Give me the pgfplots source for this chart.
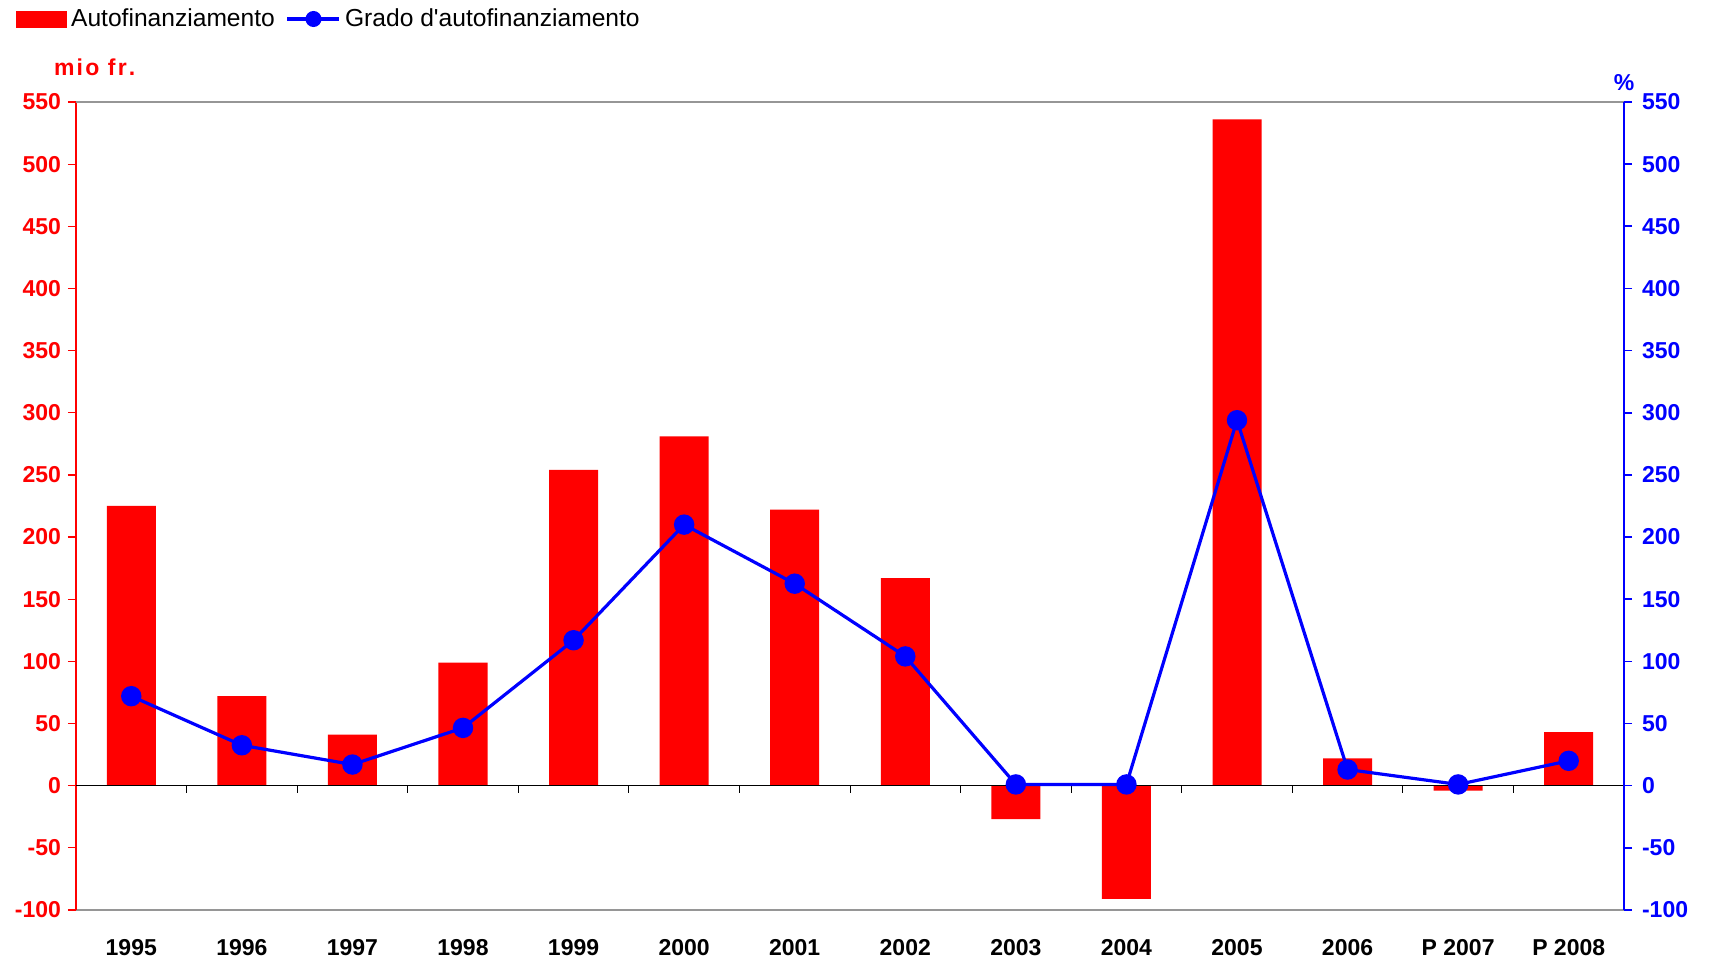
\documentclass[border=0pt]{standalone}
\usepackage{fontspec}
\setmainfont{Liberation Sans}
\usepackage{pgfplots}
\pgfplotsset{compat=1.18}
\definecolor{myred}{RGB}{255,0,0}
\definecolor{myblue}{RGB}{0,0,255}
\definecolor{bordergray}{RGB}{150,150,150}
\newcommand{\tickfont}{\bfseries\fontsize{11.5}{12}\selectfont}
\begin{document}
\begin{tikzpicture}
\useasboundingbox (-38pt,-26.5pt) rectangle (817pt,455pt);
\begin{axis}[
  scale only axis, width=774pt, height=404pt,
  xmin=-0.5, xmax=13.5, ymin=-100, ymax=550,
  ytick={-100,-50,...,550},
  axis y line*=left, axis x line*=bottom,
  x axis line style={bordergray, line width=1pt, -},
  y axis line style={myred, line width=0.6pt, -},
  ytick style={myred, line width=0.6pt},
  tick align=outside, major tick length=4pt,
  xtick={0,...,13},
  xticklabels={1995,1996,1997,1998,1999,2000,2001,2002,2003,2004,2005,2006,P 2007,P 2008},
  xtick style={draw=none},
  yticklabel style={myred, font=\tickfont},
  xticklabel style={black, font=\tickfont, yshift=-7pt},
  /pgf/number format/assume math mode=true,
  ybar, bar width=24.5pt,
  clip=false,
]
\addplot[fill=myred, draw=none] coordinates {
(0,225) (1,72) (2,41) (3,99) (4,254) (5,281) (6,222) (7,167) (8,-27) (9,-91) (10,536) (11,22) (12,-4) (13,43)};
\draw[black, line width=0.5pt] (axis cs:-0.5,0) -- (axis cs:13.5,0);
\pgfplotsinvokeforeach{0.5,1.5,...,12.5}{\draw[black, line width=0.5pt] (axis cs:#1,0) -- ([yshift=-3.5pt]axis cs:#1,0);}
\node[anchor=base west, myred, font=\tickfont, xshift=-14.5pt, yshift=13pt] at (rel axis cs:0,1) {m\kern1.1pt i\kern1.1pt o\kern1.1pt\ f\kern1.1pt r\kern1.1pt .};
\end{axis}
\begin{axis}[
  scale only axis, width=774pt, height=404pt,
  xmin=-0.5, xmax=13.5, ymin=-100, ymax=550,
  ytick={-100,-50,...,550},
  axis y line*=right, axis x line*=top,
  x axis line style={bordergray, line width=1pt, -},
  y axis line style={myblue, line width=1pt, -},
  ytick style={myblue, line width=0.8pt},
  xtick=\empty,
  tick align=outside, major tick length=4pt,
  yticklabel style={myblue, font=\tickfont, xshift=1.5pt},
  /pgf/number format/assume math mode=true,
  clip=false,
  legend columns=2,
  legend style={at={(-0.0388,1.1027)}, anchor=west, draw=none, fill=none, inner sep=0pt,
    font=\fontsize{12.3}{14}\selectfont,
    /tikz/every even column/.append style={column sep=3.5pt}},
  legend cell align=left,
]
\addlegendimage{legend image code/.code={\fill[myred] (0pt,-4pt) rectangle (25pt,4pt);}}
\addlegendentry{Autofinanziamento}
\addplot[myblue, line width=1.6pt, mark=*, mark size=4.3pt, mark options={fill=myblue, draw=myblue},
  legend image code/.code={\draw[myblue,line width=1.6pt] (0pt,0pt) -- (26pt,0pt); \fill[myblue] (13pt,0pt) circle (3.2pt);}]
coordinates {
(0,72) (1,32.5) (2,17) (3,46.5) (4,117) (5,210) (6,162.5) (7,104) (8,1) (9,1) (10,294) (11,13) (12,1) (13,20)};
\addlegendentry{Grado d\textquotesingle autofinanziamento}
\node[anchor=south, myblue, font=\tickfont, yshift=2pt] at (rel axis cs:1,1) {\%};
\end{axis}
\end{tikzpicture}
\end{document}
